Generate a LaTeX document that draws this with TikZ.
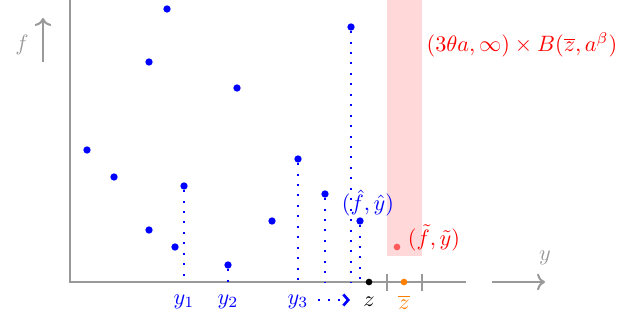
\documentclass[tikz,border=0pt]{standalone}
\usepackage{tikz}
\usetikzlibrary{arrows.meta}

\begin{document}
\begin{tikzpicture}[x=0.45pt,y=0.45pt,
    axis/.style={gray!80,line width=0.9pt},
    dot/.style={circle,fill=blue,inner sep=0pt,minimum size=3.3pt},
    drop/.style={blue,line width=0.9pt,dash pattern=on 0.9pt off 3.8pt}]
  \useasboundingbox (0,0) rectangle (633,326);

  % the ball around zbar
  \fill[red!15] (387,70) rectangle (422,326);

  % axes
  \coordinate (O) at (70,44);
  \coordinate (T) at (70,326);
  \coordinate (E) at (466,44);
  \draw[axis] (T) -- (O) -- (E);
  \coordinate (ys) at (492,44);
  \coordinate (ye) at (545,44);
  \draw[axis,->] (ys) -- (ye);
  \node[gray!80] (ylab) at (545,68) {$y$};
  \coordinate (fs) at (43,264);
  \coordinate (fe) at (43,308);
  \draw[axis,->] (fs) -- (fe);
  \node[gray!80] (flab) at (22,281) {$f$};

  % ticks around zbar
  \coordinate (tl) at (387,35);
  \coordinate (tL) at (387,52);
  \coordinate (tr) at (422,35);
  \coordinate (tR) at (422,52);
  \draw[axis] (tl) -- (tL);
  \draw[axis] (tr) -- (tR);

  % sample points
  \node[dot] (a) at (87,176) {};
  \node[dot] (b) at (114,149) {};
  \node[dot] (c) at (149,264) {};
  \node[dot] (d) at (167,317) {};
  \node[dot] (e) at (149,96) {};
  \node[dot] (g) at (175,79) {};
  \node[dot] (h) at (237,238) {};
  \node[dot] (k) at (272,105) {};

  % points dropped to the axis
  \node[dot] (p1) at (184,140) {};
  \node[dot] (p2) at (228,61) {};
  \node[dot] (p3) at (298,167) {};
  \node[dot] (p4) at (325,132) {};
  \node[dot] (p5) at (351,299) {};
  \node[dot] (p6) at (360,105) {};
  \coordinate (q1) at (184,44);
  \coordinate (q2) at (228,44);
  \coordinate (q3) at (298,44);
  \coordinate (q4) at (325,44);
  \coordinate (q5) at (351,44);
  \coordinate (q6) at (360,44);
  \draw[drop] (p1) -- (q1);
  \draw[drop] (p2) -- (q2);
  \draw[drop] (p3) -- (q3);
  \draw[drop] (p4) -- (q4);
  \draw[drop] (p5) -- (q5);
  \draw[drop] (p6) -- (q6);

  % limit points
  \node[dot,fill=black,minimum size=3pt] (z) at (369,44) {};
  \node[dot,fill=orange,minimum size=3pt] (zb) at (404,44) {};
  \node[dot,fill=red!65,minimum size=3pt] (t) at (397,79) {};

  % labels
  \node[blue] (y1) at (184,24) {$y_1$};
  \node[blue] (y2) at (228,24) {$y_2$};
  \node[blue] (y3) at (298,24) {$y_3$};
  \node (zl) at (369,24) {$z$};
  \node[orange] (zbl) at (404,24) {$\overline{z}$};
  \coordinate (ds) at (318,26);
  \coordinate (de) at (350,26);
  \draw[blue,line width=1pt,dash pattern=on 1pt off 3.4pt,
        -{Straight Barb[length=2.2pt,width=5pt,line width=1.2pt]}] (ds) -- (de);
  \node[blue] (hat) at (368,123) {$(\hat{f},\hat{y})$};
  \node[red] (til) at (434,88) {$(\tilde{f},\tilde{y})$};
  \node[red] (ball) at (522,281) {$(3\theta a,\infty)\times B(\overline{z},a^{\beta})$};
\end{tikzpicture}
\end{document}
